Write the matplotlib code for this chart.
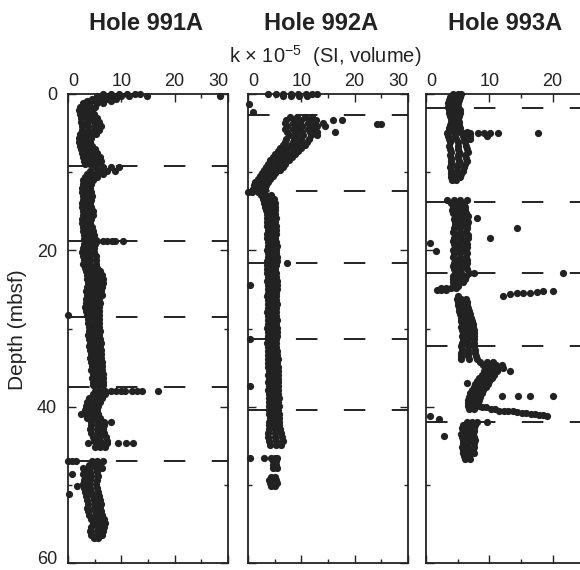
import matplotlib
matplotlib.use("Agg")
import matplotlib.pyplot as plt
from matplotlib.transforms import ScaledTranslation

plt.rcParams['font.family'] = ['Liberation Sans', 'DejaVu Sans']
plt.rcParams['mathtext.fontset'] = 'custom'
plt.rcParams['mathtext.rm'] = 'Liberation Sans'
plt.rcParams['lines.scale_dashes'] = False

INK = '#222222'

# ---- data: depth (mbsf) and k x 1e-5 (SI) values at that depth ----
titles = ["Hole 991A", "Hole 992A", "Hole 993A"]

depth_991 = [0.0, 0.3, 0.6, 0.9, 1.2, 1.6, 2.1, 2.6, 3.1, 3.6, 4.1, 4.6, 5.1, 5.6, 6.1, 6.6,
             7.1, 7.6, 8.1, 8.6, 9.0, 9.4, 9.8, 10.2, 10.6, 11.0, 11.5, 12.0, 12.5, 13.0,
             13.5, 14.0, 14.5, 15.0, 15.5, 16.0, 16.5, 17.0, 17.5, 18.0, 18.5, 18.8, 19.2,
             19.7, 20.2, 20.7, 21.2, 21.7, 22.2, 22.7, 23.2, 23.7, 24.2, 24.7, 25.2, 25.7,
             26.2, 26.7, 27.2, 27.7, 28.3, 28.8, 29.3, 29.8, 30.3, 30.8, 31.3, 31.8, 32.3,
             32.8, 33.3, 33.8, 34.3, 34.8, 35.3, 35.8, 36.3, 36.8, 37.2, 38.0, 38.4, 38.9,
             39.4, 39.9, 40.4, 40.9, 41.4, 41.9, 42.4, 42.9, 43.4, 43.9, 44.4, 44.7, 45.1,
             47.0, 47.4, 47.9, 48.4, 48.6, 48.9, 49.4, 49.9, 50.2, 50.4, 50.9, 51.2, 51.4,
             51.9, 52.4, 52.9, 53.4, 53.9, 54.4, 54.9, 55.4, 55.9, 56.4, 56.8]
k_991 = [[6.5, 8, 9.5, 11, 12.5, 13.5], [5.5, 7, 8.5, 10, 11.5, 14.8, 28.5], [4.5, 6, 7.5, 9],
         [3.5, 5, 6.5, 8], [2.8, 4, 5.5, 6.5], [2.2, 3.2, 4.1, 5.0], [2.0, 2.9, 3.7, 4.5],
         [2.3, 3.2, 4.0, 4.8], [2.5, 3.5, 4.5, 5.4], [2.4, 3.6, 4.8, 5.9], [2.6, 3.8, 5.0, 6.1],
         [2.7, 3.8, 4.8, 5.8], [2.2, 3.2, 4.2, 5.2], [2.0, 2.8, 3.6, 4.4], [2.1, 2.8, 3.5, 4.2],
         [2.3, 3.0, 3.8, 4.5], [2.5, 3.3, 4.2, 5.0], [2.6, 3.6, 4.5, 5.5], [2.8, 3.9, 4.9, 6.0],
         [3.0, 4.1, 5.2, 6.2], [3.2, 4.1, 5.1, 6.0], [5.0, 6.5, 8.0, 9.5],
         [4.2, 5.8, 7.4, 8.8], [3.6, 5.0, 6.6], [3.2, 4.2, 5.4], [2.9, 3.8, 4.7],
         [2.8, 3.6, 4.4], [2.6, 3.4, 4.2], [2.7, 3.5, 4.3], [2.9, 3.7, 4.5], [2.8, 3.6, 4.4],
         [2.6, 3.4, 4.1], [2.7, 3.5, 4.3], [2.8, 3.7, 4.6], [2.9, 3.8, 4.6], [2.7, 3.6, 4.4],
         [2.6, 3.4, 4.2], [2.8, 3.6, 4.5], [2.9, 3.8, 4.7], [3.0, 3.9, 4.8], [3.0, 4.0, 5.0],
         [3.5, 4.5, 5.5, 6.5, 7.3, 8.2, 8.8, 10.4], [3.0, 4.0, 5.0], [2.8, 3.8, 4.8],
         [2.6, 3.7, 4.9], [2.8, 4.0, 5.2], [3.0, 4.1, 5.3], [2.9, 4.0, 5.2], [3.2, 4.3, 5.5],
         [3.4, 4.3, 5.1, 6.0], [3.6, 4.5, 5.5, 6.4], [3.5, 4.5, 5.6, 6.6], [3.8, 4.7, 5.7, 6.6],
         [3.6, 4.5, 5.5, 6.4], [3.4, 4.3, 5.3, 6.2], [3.5, 4.4, 5.4, 6.3], [3.3, 4.2, 5.1, 5.9],
         [3.4, 4.3, 5.2, 6.0], [3.2, 4.1, 5.0, 5.8], [3.4, 4.2, 5.1, 5.9],
         [0.0, 3.5, 4.7, 5.8], [3.8, 4.8, 5.8], [3.8, 4.9, 5.9],
         [3.9, 4.9, 5.9], [4.0, 5.0, 6.0], [3.8, 4.8, 5.8], [4.0, 5.0, 6.0], [4.1, 5.1, 6.1],
         [4.0, 5.0, 6.0], [4.2, 5.2, 6.1], [4.3, 5.3, 6.2], [4.2, 5.2, 6.2], [4.4, 5.4, 6.3],
         [4.5, 5.5, 6.4], [4.4, 5.4, 6.4], [4.6, 5.6, 6.5], [4.5, 5.5, 6.5], [4.6, 5.6, 6.5],
         [4.7, 5.7, 6.6], [5.0, 6.0, 7.0, 8.0, 9.0, 10.0, 10.7, 12.0, 12.9, 13.8, 16.9],
         [4.6, 5.8, 7.0], [4.0, 5.2, 6.4], [3.6, 4.8, 6.0], [3.4, 4.5, 5.7], [3.2, 4.3, 5.5],
         [2.4, 3.4, 4.5, 5.6], [3.6, 4.8, 6.0], [4.4, 5.6, 6.8, 8.0], [4.4, 5.6, 6.8],
         [4.2, 5.4, 6.6], [4.4, 5.6, 6.8], [4.6, 5.8, 7.2], [4.8, 6.0, 7.4],
         [3.7, 5.2, 6.2, 7.3, 9.4, 10.9, 12.2], [5.0, 6.0, 7.0],
         [0.0, 0.7, 1.5, 4.5, 5.5, 6.6], [4.0, 5.0, 6.0], [2.8, 4.0, 5.2, 6.4], [3.0, 4.2, 5.4],
         [0.7, 2.8], [3.2, 4.4, 5.6], [3.0, 4.2, 5.4], [2.8, 4.0, 5.2], [1.7], [3.0, 4.2, 5.4],
         [3.2, 4.4, 5.6], [0.1], [3.4, 4.6, 5.8], [3.6, 4.8, 6.0], [3.8, 5.0, 6.2],
         [3.6, 4.8, 6.0], [3.8, 5.0, 6.2], [4.0, 5.2, 6.4], [4.4, 5.6, 6.8], [4.6, 5.8, 7.0],
         [4.4, 5.6, 6.8], [4.2, 5.4, 6.6], [4.4, 5.4, 6.4], [4.8, 5.6]]

depth_992 = [0.0, 0.3, 1.3, 2.3, 2.9, 3.3, 3.7, 3.9, 4.1, 4.5, 4.9, 5.3, 5.7, 6.1, 6.5, 6.9,
             7.3, 7.7, 8.1, 8.5, 8.9, 9.3, 9.7, 10.1, 10.5, 10.9, 11.3, 11.7, 12.1, 12.5,
             12.9, 13.4, 13.9, 14.4, 14.9, 15.4, 15.9, 16.4, 16.9, 17.4, 17.9, 18.4, 18.9,
             19.4, 19.9, 20.4, 20.9, 21.4, 21.6, 21.9, 22.4, 22.9, 23.4, 23.9, 24.4, 24.9,
             25.4, 25.9, 26.4, 26.9, 27.4, 27.9, 28.4, 28.9, 29.4, 29.9, 30.4, 30.9, 31.4,
             31.9, 32.4, 32.9, 33.4, 33.9, 34.4, 34.9, 35.4, 35.9, 36.4, 36.9, 37.4, 37.9,
             38.4, 38.9, 39.4, 39.9, 40.4, 40.9, 41.4, 41.9, 42.4, 42.9, 43.4, 43.9, 44.4,
             44.9, 46.6, 47.0, 47.4, 47.8, 49.0, 49.4, 49.8, 50.2]
k_992 = [[3.8, 5.2, 6.6, 8.0, 9.4, 10.8, 12.0, 12.9], [6.5, 8.0, 9.5, 11.0], [0.2], [1.0],
         [7.8, 9.2, 10.6, 12.0], [7.2, 8.6, 10.0, 11.4, 12.8, 16.0, 17.6],
         [7.0, 8.4, 9.8, 11.2, 12.6, 14.0], [24.2, 25.0], [7.4, 8.8, 10.2, 11.6, 13.0, 14.5],
         [7.0, 8.4, 9.8, 11.2, 12.6], [7.4, 8.8, 10.2, 11.6, 13.0, 16.3],
         [7.6, 9.0, 10.4, 11.8, 13.0], [7.2, 8.6, 10.0, 11.4], [7.0, 8.4, 9.8, 11.0],
         [6.6, 8.0, 9.4, 10.6], [6.0, 7.4, 8.8, 10.0], [5.6, 7.0, 8.4, 9.4],
         [5.0, 6.4, 7.8, 8.8], [4.6, 6.0, 7.2, 8.2], [4.2, 5.4, 6.6, 7.6], [3.8, 5.0, 6.2, 7.0],
         [3.4, 4.6, 5.8, 6.6], [3.0, 4.2, 5.4, 6.0], [2.6, 3.8, 5.0], [2.2, 3.4, 4.6],
         [1.8, 3.0, 4.2], [1.4, 2.6, 3.8], [1.2, 2.3, 3.4], [1.0, 2.0, 3.2], [0.0, 0.8, 1.8, 3.0],
         [2.4, 3.4, 4.4], [2.8, 3.8, 4.8], [3.0, 4.0, 5.0], [3.2, 4.1, 5.0], [3.4, 4.2, 5.0],
         [3.5, 4.3, 5.1], [3.6, 4.4, 5.2], [3.5, 4.3, 5.1], [3.6, 4.4, 5.2], [3.7, 4.5, 5.3],
         [3.6, 4.4, 5.2], [3.5, 4.3, 5.1], [3.7, 4.5, 5.3], [3.8, 4.6, 5.4], [3.6, 4.4, 5.2],
         [3.7, 4.5, 5.3], [3.8, 4.6, 5.4], [3.6, 4.5, 5.4], [7.3], [3.6, 4.4, 5.2],
         [3.5, 4.3, 5.1], [3.6, 4.4, 5.2], [3.7, 4.5, 5.3], [3.6, 4.5, 5.4],
         [0.4, 3.7, 4.6, 5.5], [3.8, 4.6, 5.4], [3.7, 4.5, 5.3], [3.6, 4.4, 5.2],
         [3.7, 4.5, 5.3], [3.8, 4.6, 5.4], [3.7, 4.5, 5.3], [3.6, 4.4, 5.2], [3.7, 4.5, 5.3],
         [3.8, 4.6, 5.4], [3.7, 4.5, 5.3], [3.6, 4.5, 5.4], [3.7, 4.6, 5.5], [3.8, 4.6, 5.4],
         [0.4, 3.7, 4.5, 5.3], [3.6, 4.4, 5.2], [3.7, 4.5, 5.3], [3.8, 4.6, 5.4],
         [3.7, 4.6, 5.5], [3.8, 4.7, 5.6], [3.7, 4.6, 5.5], [3.8, 4.7, 5.6], [3.9, 4.8, 5.7],
         [3.8, 4.7, 5.6], [3.9, 4.8, 5.7], [3.8, 4.7, 5.6], [0.4, 3.9, 4.8, 5.7],
         [3.8, 4.7, 5.6], [3.9, 4.8, 5.7], [4.0, 4.9, 5.8], [3.9, 4.8, 5.7], [4.0, 4.9, 5.8],
         [3.9, 4.8, 5.7], [4.0, 4.9, 5.8], [4.1, 5.0, 5.9], [4.0, 4.9, 5.8], [3.9, 4.9, 5.9],
         [4.0, 5.0, 6.0], [3.8, 5.0, 6.2], [3.8, 5.0, 6.3], [4.0, 5.2, 6.5], [4.2, 5.2, 6.2],
         [0.3, 3.0, 4.4, 5.0, 5.5], [4.6, 5.3], [4.6, 5.3], [4.7, 5.4], [4.4, 5.0],
         [4.0, 4.8, 5.3], [4.2, 4.9, 5.4], [4.3, 5.0]]

depth_993 = [0.0, 0.4, 0.8, 1.2, 1.6, 2.0, 2.4, 2.8, 3.2, 3.6, 4.0, 4.4, 4.8, 5.0, 5.4, 5.8,
             6.2, 6.6, 7.0, 7.4, 7.8, 8.2, 8.6, 9.0, 9.4, 9.8, 10.2, 10.6, 11.0, 13.6, 14.0,
             14.4, 14.8, 15.2, 15.6, 15.9, 16.0, 16.4, 16.8, 17.1, 17.2, 17.6, 18.0, 18.4,
             18.8, 19.1, 19.2, 19.6, 20.0, 20.1, 20.4, 20.8, 21.2, 21.6, 22.0, 22.4, 22.9,
             23.3, 23.7, 24.1, 24.5, 24.8, 25.1, 25.2, 25.3, 25.4, 25.5, 25.6, 25.8, 26.2,
             26.6, 27.0, 27.4, 27.8, 28.2, 28.6, 29.0, 29.4, 29.8, 30.2, 30.6, 31.0, 31.4,
             31.8, 32.3, 32.7, 33.1, 33.5, 33.9, 34.3, 34.7, 35.1, 35.5, 35.9, 36.3, 36.7,
             37.0, 37.1, 37.5, 37.9, 38.3, 38.6, 38.7, 39.1, 39.5, 39.9, 40.1, 40.3, 40.5,
             40.6, 40.7, 40.8, 40.9, 41.0, 41.1, 41.2, 41.6, 41.9, 42.3, 42.7, 43.1, 43.5,
             43.7, 43.9, 44.3, 44.7, 45.1, 45.5, 45.9, 46.3, 46.7]
k_993 = [[4.3, 5.0, 5.5], [3.8, 4.6, 5.3], [3.6, 4.4, 5.2], [3.4, 4.2, 5.0], [3.5, 4.3, 5.1],
         [3.6, 4.5, 5.4], [3.7, 4.5, 5.3], [3.8, 4.5, 5.2], [3.9, 4.5, 5.1], [3.9, 4.6, 5.2],
         [3.8, 4.5, 5.2], [3.7, 4.5, 5.3], [3.4, 4.4, 5.4, 6.4],
         [3.3, 5.8, 7.0, 8.2, 9.2, 10.1, 11.4, 17.7], [3.4, 4.6, 5.8, 7.0, 9.6],
         [3.6, 4.8, 6.0, 7.0], [3.8, 5.0, 6.2], [3.7, 5.0, 6.3], [3.8, 5.1, 6.4],
         [3.9, 5.2, 6.6], [3.8, 5.0, 6.2], [3.9, 5.1, 6.3], [4.0, 5.2, 6.5], [3.9, 5.0, 6.1],
         [3.8, 4.9, 6.0], [3.9, 4.9, 5.8], [4.0, 4.8, 5.6], [3.9, 4.7, 5.4], [4.1, 4.8],
         [3.3, 4.4, 5.4, 6.5], [4.0, 5.0, 6.0], [4.2, 5.2, 6.2], [4.1, 5.1, 6.1],
         [4.3, 5.3, 6.3], [4.5, 5.5, 6.6], [8.0], [4.4, 5.4, 6.4], [4.6, 5.6, 6.6],
         [4.5, 5.5, 6.5], [14.4], [4.4, 5.4, 6.4], [4.3, 5.3, 6.3], [4.5, 5.5, 6.6],
         [4.4, 5.5, 6.6, 10.1], [4.3, 5.3, 6.3], [0.6], [4.4, 5.4, 6.4], [4.5, 5.5, 6.5],
         [4.3, 5.3, 6.3], [1.6], [4.4, 5.4, 6.4], [4.3, 5.3, 6.3], [4.5, 5.5, 6.5],
         [4.4, 5.4, 6.4], [4.3, 5.3, 6.3], [4.4, 5.4, 6.4], [4.5, 5.6, 6.8, 7.6, 21.6],
         [4.3, 5.3, 6.3], [4.2, 5.2, 6.2], [4.3, 5.1, 5.9], [4.2, 5.0], [2.4, 3.2, 4.0, 4.8],
         [1.7, 2.4, 3.1], [18.5, 20.1], [17.5], [15.3, 16.4], [14.4], [13.3], [12.2, 5.0],
         [4.9, 5.6, 6.3], [5.0, 5.7, 6.4], [5.1, 5.8, 6.5], [5.2, 5.9, 6.6], [5.2, 6.0, 6.8],
         [5.4, 6.2, 7.0], [5.5, 6.3, 7.1], [5.6, 6.4, 7.2], [5.7, 6.5, 7.4], [5.6, 6.5, 7.4],
         [5.7, 6.6, 7.5], [5.8, 6.7, 7.6], [5.7, 6.6, 7.5], [5.8, 6.7, 7.6], [5.7, 6.6, 7.5],
         [5.6, 6.6, 7.6], [5.7, 6.7, 7.7], [5.6, 6.7, 7.8], [5.5, 6.7, 7.9], [5.6, 6.8, 8.0],
         [8.6, 9.6, 10.6], [9.0, 10.0, 11.0, 12.0], [9.4, 10.4, 11.4, 12.2],
         [9.2, 10.2, 11.2, 13.3], [8.8, 9.8, 10.8], [8.4, 9.4, 10.4], [8.0, 9.0, 10.0], [6.5],
         [7.8, 8.8, 9.8], [7.5, 8.5, 9.4], [7.2, 8.2, 9.0], [7.0, 7.9, 8.8],
         [12.0, 14.5, 16.4, 20.0], [6.8, 7.7, 8.5], [6.7, 7.5, 8.3], [6.6, 7.4, 8.2],
         [6.6, 7.4, 8.3], [8.8, 9.5], [6.8, 7.6, 10.2, 10.9], [11.6, 12.3], [13.0, 13.7],
         [14.4], [15.1, 15.8], [16.5], [17.2], [17.9, 18.5], [19.1, 0.6], [2.0],
         [6.4, 7.2, 8.0, 9.6], [5.8, 6.8, 7.8], [5.7, 6.6, 7.5], [5.8, 6.7, 7.6],
         [5.6, 6.5, 7.4], [2.9], [5.7, 6.6, 7.5], [5.9, 6.8, 7.7], [5.8, 6.7, 7.6],
         [5.7, 6.6, 7.5], [5.8, 6.6, 7.4], [5.9, 6.7, 7.5], [6.0, 6.8], [6.2, 6.9]]

# core boundaries (dashed lines)
cores_991 = [9.2, 18.8, 28.5, 37.5, 47.0]
cores_992 = [2.7, 12.4, 21.6, 31.3, 40.4]
cores_993 = [1.8, 13.8, 22.9, 32.3, 41.9]


def flatten(depths, kvals):
    xs, ys = [], []
    for d, row in zip(depths, kvals):
        for k in row:
            xs.append(k)
            ys.append(d)
    return xs, ys


fig = plt.figure(figsize=(5.8, 5.7), dpi=100)

W, H = 580.0, 570.0
top, bot = 94, 563
panels = [(68, 160), (248, 160), (426, 190)]   # left edge, width in px
title_x = [146, 321, 505]

data = [(depth_991, k_991, cores_991), (depth_992, k_992, cores_992), (depth_993, k_993, cores_993)]

for i, ((left, width), (dd, kk, cores)) in enumerate(zip(panels, data)):
    ax = fig.add_axes([left / W, 1 - bot / H, width / W, (bot - top) / H])
    xs, ys = flatten(dd, kk)
    ax.scatter(xs, ys, s=27, color=INK, linewidths=0, zorder=3, clip_on=False)
    for c in cores:
        ax.axhline(c, color=INK, lw=1.4, linestyle=(0, (15.5, 19)), zorder=2)

    ax.set_xlim(0, 30)
    ax.set_ylim(60, 0)
    ax.set_xticks([0, 10, 20, 30])
    if i == 2:
        ax.set_xticklabels(['0', '10', '20', ''])
    ax.set_xticks([5, 15, 25], minor=True)
    ax.set_yticks([0, 20, 40, 60])
    ax.set_yticks([10, 30, 50], minor=True)
    ax.tick_params(which='both', direction='in', top=True, bottom=True, left=True, right=True,
                   labeltop=True, labelbottom=False, labelsize=13, colors=INK, width=1.0)
    ax.tick_params(which='major', length=6)
    ax.tick_params(which='minor', length=3)
    ax.tick_params(axis='x', pad=3)
    ax.tick_params(axis='y', pad=8)
    if i > 0:
        ax.tick_params(axis='y', labelleft=False)
    for sp in ax.spines.values():
        sp.set_linewidth(1.3)
        sp.set_color(INK)

    ticks = ax.xaxis.get_major_ticks()
    ticks[0].label2.set_horizontalalignment('left')
    ticks[-1].label2.set_horizontalalignment('right')
    if i == 0:
        lab = ax.yaxis.get_major_ticks()[-1].label1
        lab.set_transform(lab.get_transform() + ScaledTranslation(0, 4 / 72, fig.dpi_scale_trans))

    fig.text(title_x[i] / W, 1 - 24 / H, titles[i], fontsize=17, fontweight='bold',
             color=INK, ha='center', va='center')

fig.text(325 / W, 1 - 56 / H, r"k $\times$ 10$^{-5}$  (SI, volume)", fontsize=14.5,
         color=INK, ha='center', va='center')
fig.text(18 / W, 1 - 330 / H, "Depth (mbsf)", fontsize=15, color=INK, rotation=90,
         ha='center', va='center')

fig.savefig("out.png", dpi=100)
